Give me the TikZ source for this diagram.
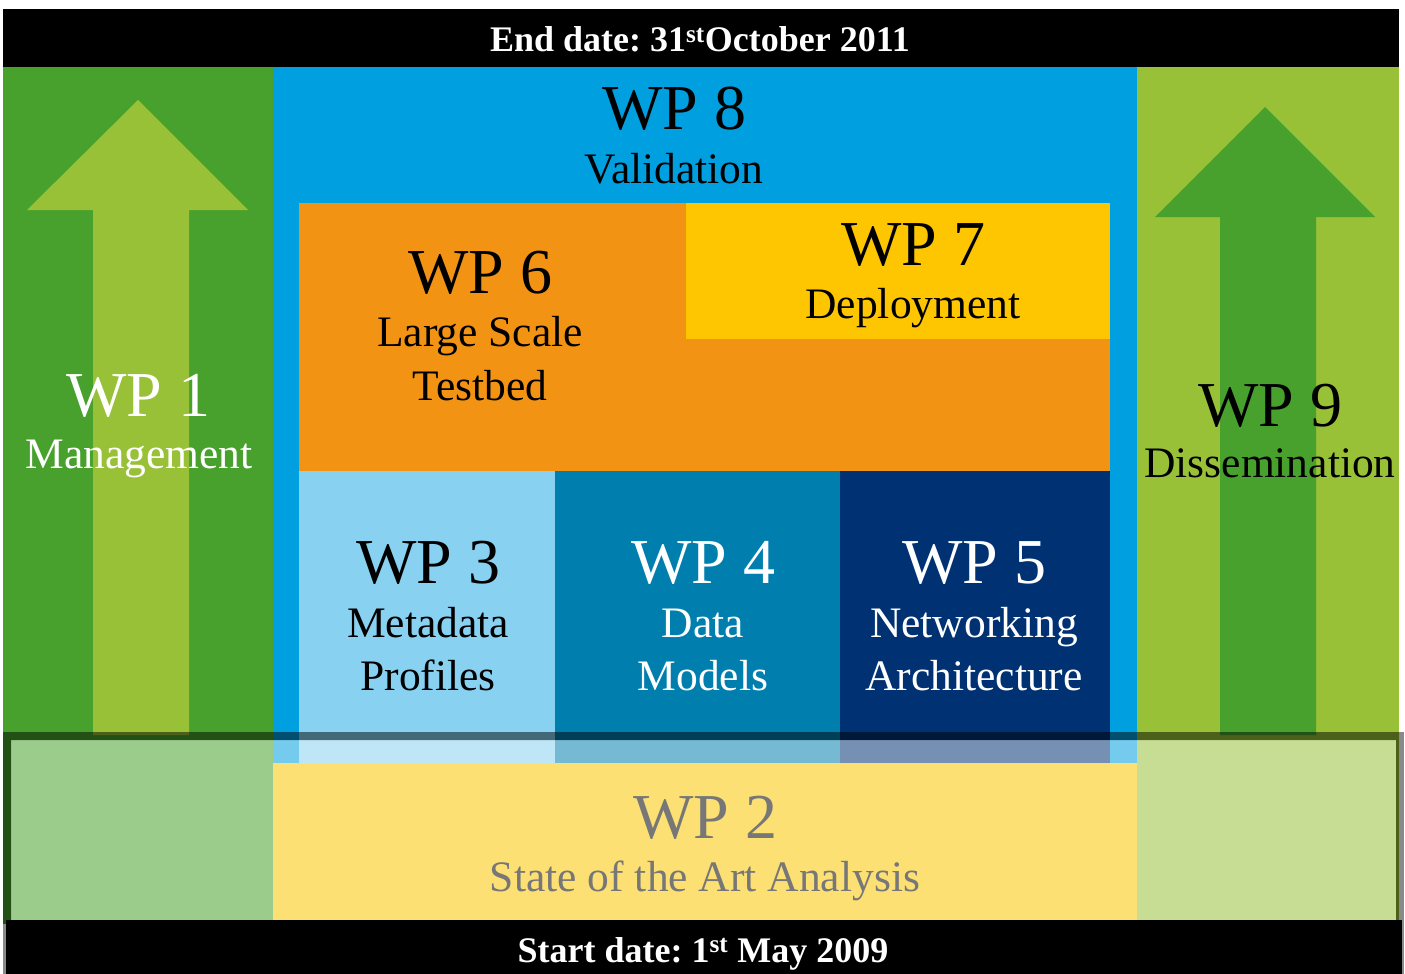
\documentclass[tikz,border=0pt]{standalone}
\usepackage{fontspec}
\setmainfont{Liberation Serif}
\frenchspacing
\definecolor{dgreen}{HTML}{47A12C}
\definecolor{lgreen}{HTML}{99C138}
\definecolor{wpblue}{HTML}{009FE0}
\definecolor{wporange}{HTML}{F39314}
\definecolor{wpyellow}{HTML}{FEC600}
\definecolor{wplblue}{HTML}{88D1F1}
\definecolor{wpmblue}{HTML}{007FAF}
\definecolor{wpdblue}{HTML}{003273}
\definecolor{wpsand}{HTML}{FDE074}
\definecolor{wpgray}{HTML}{777777}
\definecolor{shadowgray}{HTML}{8A8A8A}
\tikzset{
  wptitle/.style={font=\fontsize{64}{64}\selectfont, anchor=base, inner sep=0pt},
  wpsub/.style={font=\fontsize{43.5}{43.5}\selectfont, anchor=base, inner sep=0pt},
  datetext/.style={font=\fontsize{36}{36}\selectfont\bfseries, text=white, anchor=base, inner sep=0pt}
}
\begin{document}
\begin{tikzpicture}[x=1pt,y=-1pt]
\useasboundingbox (0,0) rectangle (1405,974);
\fill[white] (0,0) rectangle (1405,974);
% top bar
\fill[black] (3,9) rectangle (1399,67);
% side columns
\fill[dgreen] (3,67) rectangle (273,930);
\fill[lgreen] (1137,67) rectangle (1399,930);
% central blue
\fill[wpblue] (273,67) rectangle (1137,763);
% arrows
\fill[lgreen] (138,100) -- (248,210) -- (189,210) -- (189,735) -- (93,735) -- (93,210) -- (27,210) -- cycle;
\fill[dgreen] (1265,107) -- (1375,217) -- (1316,217) -- (1316,735) -- (1220,735) -- (1220,217) -- (1155,217) -- cycle;
% work package blocks
\fill[wporange] (299,203) rectangle (1110,471);
\fill[wpyellow] (686,203) rectangle (1110,339);
\fill[wplblue] (299,471) rectangle (555,763);
\fill[wpmblue] (555,471) rectangle (840,763);
\fill[wpdblue] (840,471) rectangle (1110,763);
% translucent WP2 band
\fill[white, opacity=0.46] (11,740) rectangle (1396,930);
\fill[black, opacity=0.5, even odd rule] (3,732) rectangle (1399,930) (11,740) rectangle (1396,930);
\fill[shadowgray] (1399,732) rectangle (1404,974);
\fill[shadowgray] (3,924) rectangle (6,974);
\fill[wpsand] (273,763) rectangle (1137,920);
% bottom bar
\fill[black] (6,920) rectangle (1402,974);
% texts
\node[datetext] (enddate) at (700,52) {End date: 31\textsuperscript{st}October 2011};
\node[datetext] (startdate) at (703,962) {Start date: 1\textsuperscript{st} May 2009};
\node[wptitle] (wp8) at (674,129) {WP 8};
\node[wpsub] (wp8s) at (674,183) {Validation};
\node[wptitle, text=white] (wp1) at (138,416) {WP 1};
\node[wpsub, text=white] (wp1s) at (139,468) {Management};
\node[wptitle] (wp9) at (1270,426) {WP 9};
\node[wpsub] (wp9s) at (1270,477) {Dissemination};
\node[wptitle] (wp6) at (480,293) {WP 6};
\node[wpsub] (wp6s) at (480,346) {Large Scale};
\node[wpsub] (wp6t) at (480,400) {Testbed};
\node[wptitle] (wp7) at (913,265) {WP 7};
\node[wpsub] (wp7s) at (913,318) {Deployment};
\node[wptitle] (wp3) at (428,583) {WP 3};
\node[wpsub] (wp3s) at (428,637) {Metadata};
\node[wpsub] (wp3t) at (428,690) {Profiles};
\node[wptitle, text=white] (wp4) at (703,583) {WP 4};
\node[wpsub, text=white] (wp4s) at (703,637) {Data};
\node[wpsub, text=white] (wp4t) at (703,690) {Models};
\node[wptitle, text=white] (wp5) at (974,583) {WP 5};
\node[wpsub, text=white] (wp5s) at (974,637) {Networking};
\node[wpsub, text=white] (wp5t) at (974,690) {Architecture};
\node[wptitle, text=wpgray] (wp2) at (705,838) {WP 2};
\node[wpsub, text=wpgray] (wp2s) at (705,891) {State of the Art Analysis};
\end{tikzpicture}
\end{document}
